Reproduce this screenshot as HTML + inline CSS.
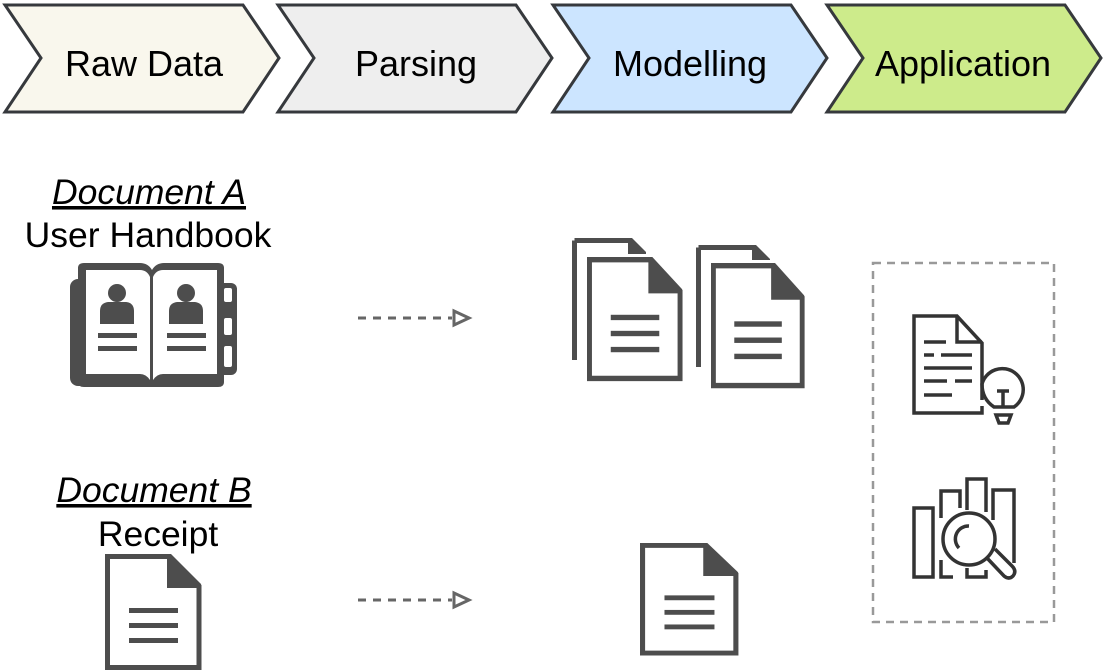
<!DOCTYPE html>
<html><head><meta charset="utf-8"><style>
html,body{margin:0;padding:0;background:#fff;}
svg{display:block;font-family:"Liberation Sans",Arial,sans-serif;}
</style></head><body>
<svg width="1104" height="670" viewBox="0 0 1104 670" xmlns="http://www.w3.org/2000/svg">
<defs>
<g id="doc">
<path d="M2.5,2.5 H64 L94,32 V113.5 H2.5 Z" fill="#fff" stroke="#4d4d4d" stroke-width="5"/>
<path d="M62,0 H66 L96,30 V34 H62 Z" fill="#4d4d4d"/>
<rect x="24" y="54" width="49" height="5" fill="#4d4d4d"/>
<rect x="24" y="69" width="49" height="5" fill="#4d4d4d"/>
<rect x="24" y="84" width="49" height="5" fill="#4d4d4d"/>
</g>
<g id="backdoc">
<path d="M2.5,2.5 H58 L70,14" fill="none" stroke="#4d4d4d" stroke-width="5"/>
<path d="M2.5,2.5 V122" fill="none" stroke="#4d4d4d" stroke-width="5"/>
<path d="M56,0 H60 L74,14 V22 H56 Z" fill="#4d4d4d"/>
</g>
</defs>

<g stroke="#36393d" stroke-width="3" stroke-linejoin="miter">
<path d="M5,5 H243 L279,58 L243,112 H5 L41,58 Z" fill="#f9f7ed"/>
<path d="M278,5 H516 L552,58 L516,112 H278 L314,58 Z" fill="#eeeeee"/>
<path d="M553,5 H791 L827,58 L791,112 H553 L589,58 Z" fill="#cce5ff"/>
<path d="M827,5 H1065 L1101,58 L1065,112 H827 L863,58 Z" fill="#cdeb8b"/>
</g>
<g font-size="36" fill="#000" text-anchor="middle">
<text x="144" y="76">Raw Data</text>
<text x="416" y="76">Parsing</text>
<text x="690" y="76">Modelling</text>
<text x="963" y="76">Application</text>
</g>

<g font-size="35.5" fill="#000" text-anchor="middle">
<text x="149" y="204" font-style="italic" text-decoration="underline">Document A</text>
<text x="148" y="247">User Handbook</text>
<text x="154" y="502" font-style="italic" text-decoration="underline">Document B</text>
<text x="158" y="546">Receipt</text>
</g>

<g fill="#4d4d4d">
<rect x="70" y="279" width="152" height="107" rx="8"/>
<rect x="210" y="283" width="27" height="92" rx="6"/>
<path d="M78,268 Q78,263 84,263 H140 Q148,263 152,270 Q156,263 164,263 H218 Q224,263 224,268 V382 Q224,387 218,387 H84 Q78,387 78,382 Z"/>
</g>
<g fill="#fff">
<path d="M86,270 H140 Q147,270 150,277 V380 Q146,374 140,374 H86 Z"/>
<path d="M217,270 H163 Q156,270 153,277 V380 Q157,374 163,374 H217 Z"/>
<rect x="224" y="288" width="8" height="14" rx="2"/>
<rect x="224" y="318" width="8" height="17" rx="2"/>
<rect x="224" y="346" width="8" height="21" rx="2"/>
</g>
<g fill="#4d4d4d">
<circle cx="117" cy="293" r="9"/>
<path d="M100,324 V311 Q100,303 108,302 H126 Q134,303 134,311 V324 Z"/>
<rect x="98" y="333" width="39" height="5"/>
<rect x="98" y="346" width="39" height="5"/>
<circle cx="186" cy="293" r="9"/>
<path d="M169,324 V311 Q169,303 177,302 H195 Q203,303 203,311 V324 Z"/>
<rect x="167" y="333" width="39" height="5"/>
<rect x="167" y="346" width="39" height="5"/>
</g>

<g stroke="#666" stroke-width="3" fill="none">
<line x1="358" y1="318" x2="452" y2="318" stroke-dasharray="8,7"/>
<path d="M454,311 L469,318 L454,325 Z" fill="#fff"/>
<line x1="358" y1="600" x2="452" y2="600" stroke-dasharray="8,7"/>
<path d="M454,593 L469,600 L454,607 Z" fill="#fff"/>
</g>

<use href="#backdoc" x="572" y="238"/>
<rect x="584" y="254" width="100" height="130" fill="#fff"/>
<use href="#doc" x="587" y="257" transform="translate(587,257) scale(0.99,1.07) translate(-587,-257)"/>
<use href="#backdoc" x="696" y="245"/>
<rect x="708" y="260" width="100" height="130" fill="#fff"/>
<use href="#doc" x="711" y="263" transform="translate(711,263) scale(0.97,1.08) translate(-711,-263)"/>

<use href="#doc" x="105" y="554"/>
<use href="#doc" x="640" y="543" transform="translate(640,543) scale(1.02,0.97) translate(-640,-543)"/>

<rect x="873" y="263" width="181" height="359" fill="none" stroke="#999" stroke-width="2.5" stroke-dasharray="8,6"/>

<g stroke="#333" stroke-width="3.5" fill="none">
<path d="M982,400 V343 L957,316 H914 V413 H982 V406"/>
<path d="M957,316 V342 H982"/>
<path d="M924,342 H946 M924,355 H934 M941,355 H972 M924,368 H972 M924,381 H947 M955,381 H972 M924,395 H952"/>
<path d="M994,407 Q982,399 982,384 A21,21 0 1 1 1014,407 Z"/>
<path d="M997,391 H1009 M1003,391 V407"/>
<path d="M996,415 H1011 L1008,423 H999 Z"/>
</g>

<g stroke="#333" stroke-width="3.5" fill="none">
<rect x="914" y="508" width="19" height="69"/>
<path d="M941,518 V491 H960 V508"/>
<path d="M941,560 V577 H953"/>
<path d="M967,510 V479 H986 V512"/>
<path d="M967,568 V577 H986 V570"/>
<path d="M993,520 V490 H1014 V563"/>
<circle cx="969" cy="539" r="26"/>
<path d="M959,548 A13,13 0 0 1 969,526"/>
<path d="M987,558 L1004,576 Q1009,580 1013,576 Q1017,571 1012,566 L995,549"/>
</g>
</svg>
</body></html>
